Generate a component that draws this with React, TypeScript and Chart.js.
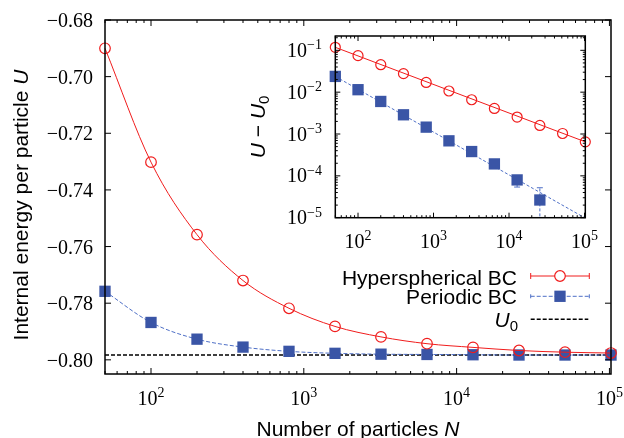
import React, { useEffect, useRef } from 'react';
import { Chart, registerables } from 'chart.js';

Chart.register(...registerables);

// ---------- data ----------
const particleN = [50, 100, 200, 400, 800, 1600, 3200, 6400, 12800, 25600, 51200, 102400];
const hyperU = [-0.690, -0.7302, -0.7558, -0.7720, -0.7818, -0.7882, -0.7919, -0.7943, -0.7956, -0.7967, -0.7973, -0.7976];
const periodicU = [-0.7758, -0.7868, -0.7927, -0.7955, -0.7970, -0.7977, -0.7980, -0.7981, -0.7982, -0.7983, -0.7983, -0.7983];
const U0 = -0.7983;
const u0LineN = [50, 102400];

const insetHyperDiff = [0.118, 0.0746, 0.0454, 0.0277, 0.0171, 0.01066, 0.00659, 0.00408, 0.00254, 0.00160, 0.00103, 0.00065];
const insetPeriodicN = [50, 100, 200, 400, 800, 1600, 3200, 6400, 12800, 25600];
const insetPeriodicDiff = [0.0238, 0.01146, 0.0060, 0.00288, 0.00146, 0.000687, 0.000381, 0.000193, 0.0000800, 0.0000265];
const insetPeriodicErrLow: (number | null)[] = [null, null, null, null, null, null, null, null, 0.000054, 0.0000001];
const insetPeriodicErrHigh: (number | null)[] = [null, null, null, null, null, null, null, null, 0.0001, 0.000052];
const hyperFitN = [50, 102400];
const hyperFitDiff = [0.118, 0.00065];
const periodicFitN = [50, 100000];
const periodicFitDiff = [0.0238, 0.00001];

// ---------- ticks ----------
const mainYTicks = [-0.80, -0.78, -0.76, -0.74, -0.72, -0.70, -0.68];
const mainYTickLabels = ['\u22120.80', '\u22120.78', '\u22120.76', '\u22120.74', '\u22120.72', '\u22120.70', '\u22120.68'];
const xMajorTicks = [100, 1000, 10000, 100000];
const xMajorExps = ['2', '3', '4', '5'];
const insetYMajorTicks = [1e-5, 1e-4, 1e-3, 1e-2, 1e-1];
const insetYMajorExps = ['\u22125', '\u22124', '\u22123', '\u22122', '\u22121'];

const RED = '#f01c1c';
const BLUE = '#3a55a6';
const BLUE_LINE = '#4e6fc6';
const SERIF = '"Liberation Serif", "Times New Roman", serif';
const SANS = '"Liberation Sans", Arial, sans-serif';
const TICK_FONT = `20px ${SERIF}`;
const EXP_FONT = `14px ${SERIF}`;
const TITLE_FONT = `21px ${SANS}`;
const TITLE_IT = `italic 21px ${SANS}`;
const SUB_FONT = `15px ${SANS}`;

function minorLogTicks(lo: number, hi: number) {
  const out: number[] = [];
  for (let d = -6; d <= 6; d++) {
    for (let k = 2; k <= 9; k++) {
      const v = k * Math.pow(10, d);
      if (v >= lo && v <= hi) out.push(v);
    }
  }
  return out;
}

type Run = { t: string; font: string; dy: number };
function drawRuns(ctx: CanvasRenderingContext2D, runs: Run[], x: number, y: number, align: 'left' | 'center' | 'right') {
  let total = 0;
  const widths = runs.map(r => {
    ctx.font = r.font;
    const w = ctx.measureText(r.t).width;
    total += w;
    return w;
  });
  let cx = align === 'center' ? x - total / 2 : align === 'right' ? x - total : x;
  ctx.textAlign = 'left';
  ctx.textBaseline = 'alphabetic';
  runs.forEach((r, i) => {
    ctx.font = r.font;
    ctx.fillText(r.t, cx, y + r.dy);
    cx += widths[i];
  });
}

function drawXTicks(ctx: CanvasRenderingContext2D, a: any, scale: any, values: number[], len: number) {
  ctx.beginPath();
  values.forEach(v => {
    const px = scale.getPixelForValue(v);
    if (px < a.left - 0.5 || px > a.right + 0.5) return;
    ctx.moveTo(px, a.bottom); ctx.lineTo(px, a.bottom - len);
    ctx.moveTo(px, a.top); ctx.lineTo(px, a.top + len);
  });
  ctx.stroke();
}
function drawYTicks(ctx: CanvasRenderingContext2D, a: any, scale: any, values: number[], len: number) {
  ctx.beginPath();
  values.forEach(v => {
    const py = scale.getPixelForValue(v);
    if (py < a.top - 0.5 || py > a.bottom + 0.5) return;
    ctx.moveTo(a.left, py); ctx.lineTo(a.left + len, py);
    ctx.moveTo(a.right, py); ctx.lineTo(a.right - len, py);
  });
  ctx.stroke();
}

const mainDecor = {
  id: 'mainDecor',
  afterDraw(chart: any) {
    const { ctx, chartArea: a, scales } = chart;
    const xs = scales.x, ys = scales.y;
    ctx.save();
    ctx.strokeStyle = '#000';
    ctx.fillStyle = '#000';
    ctx.lineWidth = 1.5;
    ctx.strokeRect(a.left, a.top, a.right - a.left, a.bottom - a.top);
    ctx.lineWidth = 1;
    drawXTicks(ctx, a, xs, xMajorTicks, 6);
    drawXTicks(ctx, a, xs, minorLogTicks(xs.min, xs.max), 3);
    drawYTicks(ctx, a, ys, mainYTicks, 6);

    // tick labels
    mainYTicks.forEach((v, i) => {
      const py = ys.getPixelForValue(v);
      drawRuns(ctx, [{ t: mainYTickLabels[i], font: TICK_FONT, dy: 0 }], a.left - 12, py + 7, 'right');
    });
    xMajorTicks.forEach((v, i) => {
      const px = xs.getPixelForValue(v);
      drawRuns(ctx, [{ t: '10', font: TICK_FONT, dy: 0 }, { t: xMajorExps[i], font: EXP_FONT, dy: -8 }], px, a.bottom + 31, 'center');
    });

    // axis titles
    drawRuns(ctx, [{ t: 'Number of particles ', font: TITLE_FONT, dy: 0 }, { t: 'N', font: TITLE_IT, dy: 0 }], (a.left + a.right) / 2, 436, 'center');
    ctx.save();
    ctx.translate(28, 205);
    ctx.rotate(-Math.PI / 2);
    drawRuns(ctx, [{ t: 'Internal energy per particle ', font: TITLE_FONT, dy: 0 }, { t: 'U', font: TITLE_IT, dy: 0 }], 0, 0, 'center');
    ctx.restore();

    // legend
    const lx1 = 530.7, lx2 = 589.3, lxc = 560, textR = 517;
    const r1 = 276, r2 = 296.3, r3 = 319.3;
    drawRuns(ctx, [{ t: 'Hyperspherical BC', font: TITLE_FONT, dy: 0 }], textR, r1 + 8.5, 'right');
    drawRuns(ctx, [{ t: 'Periodic BC', font: TITLE_FONT, dy: 0 }], textR, r2 + 7.5, 'right');
    drawRuns(ctx, [{ t: 'U', font: TITLE_IT, dy: 0 }, { t: '0', font: SUB_FONT, dy: 3.5 }], textR + 1, r3 + 7.7, 'right');

    ctx.strokeStyle = RED;
    ctx.lineWidth = 1;
    ctx.beginPath();
    ctx.moveTo(lx1, r1); ctx.lineTo(lx2, r1);
    ctx.moveTo(lx1, r1 - 3); ctx.lineTo(lx1, r1 + 3);
    ctx.moveTo(lx2, r1 - 3); ctx.lineTo(lx2, r1 + 3);
    ctx.stroke();
    ctx.beginPath();
    ctx.arc(lxc, r1, 5.3, 0, Math.PI * 2);
    ctx.fillStyle = '#fff';
    ctx.fill();
    ctx.lineWidth = 1.2;
    ctx.stroke();

    ctx.strokeStyle = BLUE_LINE;
    ctx.lineWidth = 1;
    ctx.setLineDash([4, 2]);
    ctx.beginPath();
    ctx.moveTo(lx1, r2); ctx.lineTo(lx2, r2);
    ctx.stroke();
    ctx.setLineDash([]);
    ctx.beginPath();
    ctx.moveTo(lx1, r2 - 2); ctx.lineTo(lx1, r2 + 2);
    ctx.moveTo(lx2, r2 - 2); ctx.lineTo(lx2, r2 + 2);
    ctx.stroke();
    ctx.fillStyle = BLUE;
    ctx.fillRect(lxc - 5.65, r2 - 5.65, 11.3, 11.3);

    ctx.strokeStyle = '#000';
    ctx.lineWidth = 1.5;
    ctx.setLineDash([4, 2]);
    ctx.beginPath();
    ctx.moveTo(lx1, r3); ctx.lineTo(lx2 - 1, r3);
    ctx.stroke();
    ctx.setLineDash([]);
    ctx.restore();
  },
};

const insetDecor = {
  id: 'insetDecor',
  beforeDatasetsDraw(chart: any) {
    const { ctx, chartArea: a, scales } = chart;
    ctx.save();
    ctx.fillStyle = '#fff';
    ctx.fillRect(a.left, a.top, a.right - a.left, a.bottom - a.top);
    ctx.beginPath();
    ctx.rect(a.left, a.top, a.right - a.left, a.bottom - a.top);
    ctx.clip();
    ctx.strokeStyle = BLUE_LINE;
    ctx.lineWidth = 1;
    insetPeriodicN.forEach((n, i) => {
      const lo = insetPeriodicErrLow[i], hi = insetPeriodicErrHigh[i];
      if (lo == null || hi == null) return;
      const px = scales.x.getPixelForValue(n);
      const pl = scales.y.getPixelForValue(lo);
      const ph = scales.y.getPixelForValue(hi);
      ctx.setLineDash([3, 2]);
      ctx.beginPath();
      ctx.moveTo(px, pl); ctx.lineTo(px, ph);
      ctx.stroke();
      ctx.setLineDash([]);
      ctx.beginPath();
      ctx.moveTo(px - 3, pl); ctx.lineTo(px + 3, pl);
      ctx.moveTo(px - 3, ph); ctx.lineTo(px + 3, ph);
      ctx.stroke();
    });
    ctx.restore();
  },
  afterDraw(chart: any) {
    const { ctx, chartArea: a, scales } = chart;
    const xs = scales.x, ys = scales.y;
    ctx.save();
    ctx.strokeStyle = '#000';
    ctx.fillStyle = '#000';
    ctx.lineWidth = 1.5;
    ctx.strokeRect(a.left, a.top, a.right - a.left, a.bottom - a.top);
    ctx.lineWidth = 1;
    drawXTicks(ctx, a, xs, xMajorTicks, 5);
    drawXTicks(ctx, a, xs, minorLogTicks(xs.min, xs.max), 2.5);
    drawYTicks(ctx, a, ys, insetYMajorTicks, 5);
    drawYTicks(ctx, a, ys, minorLogTicks(ys.min, ys.max), 2.5);

    insetYMajorTicks.forEach((v, i) => {
      const py = ys.getPixelForValue(v);
      drawRuns(ctx, [{ t: '10', font: TICK_FONT, dy: 0 }, { t: insetYMajorExps[i], font: EXP_FONT, dy: -7.5 }], a.left - 13.3, py + 6.6, 'right');
    });
    xMajorTicks.forEach((v, i) => {
      const px = xs.getPixelForValue(v);
      drawRuns(ctx, [{ t: '10', font: TICK_FONT, dy: 0 }, { t: xMajorExps[i], font: EXP_FONT, dy: -8 }], px, a.bottom + 30.6, 'center');
    });

    ctx.save();
    ctx.translate(265, (a.top + a.bottom) / 2);
    ctx.rotate(-Math.PI / 2);
    drawRuns(ctx, [
      { t: 'U', font: TITLE_IT, dy: 0 },
      { t: ' \u2212 ', font: TITLE_FONT, dy: 0 },
      { t: 'U', font: TITLE_IT, dy: 0 },
      { t: '0', font: SUB_FONT, dy: 4 },
    ], 0, 0, 'center');
    ctx.restore();
    ctx.restore();
  },
};

export default function App() {
  const mainRef = useRef<HTMLCanvasElement>(null);
  const insetRef = useRef<HTMLCanvasElement>(null);

  useEffect(() => {
    document.body.style.margin = '0';
    const main = new Chart(mainRef.current as HTMLCanvasElement, {
      type: 'line',
      data: {
        datasets: [
          {
            label: 'Hyperspherical BC',
            data: particleN.map((n, i) => ({ x: n, y: hyperU[i] })),
            borderColor: RED,
            borderWidth: 1,
            pointRadius: 5.3,
            pointBorderColor: RED,
            pointBackgroundColor: 'rgba(0,0,0,0)',
            pointBorderWidth: 1.2,
            cubicInterpolationMode: 'monotone',
            fill: false,
            clip: false,
          } as any,
          {
            label: 'Periodic BC',
            data: particleN.map((n, i) => ({ x: n, y: periodicU[i] })),
            borderColor: BLUE_LINE,
            borderDash: [4, 2],
            borderWidth: 1,
            pointStyle: 'rect',
            pointRadius: 8,
            pointBackgroundColor: BLUE,
            pointBorderColor: BLUE,
            pointBorderWidth: 0,
            cubicInterpolationMode: 'monotone',
            fill: false,
            clip: false,
          } as any,
          {
            label: 'U0',
            data: u0LineN.map(n => ({ x: n, y: U0 })),
            borderColor: '#000',
            borderDash: [4, 2],
            borderWidth: 1.5,
            pointRadius: 0,
            fill: false,
          } as any,
        ],
      },
      options: {
        responsive: false,
        animation: false,
        devicePixelRatio: 1,
        layout: { padding: { left: 0, top: 20, right: 13, bottom: 0 } },
        plugins: { legend: { display: false }, tooltip: { enabled: false } },
        events: [],
        scales: {
          x: {
            type: 'logarithmic',
            min: 50,
            max: 102400,
            grid: { display: false },
            border: { display: false },
            ticks: { display: false },
            afterFit: (s: any) => { s.height = 64; },
          },
          y: {
            type: 'linear',
            min: -0.805,
            max: -0.68,
            grid: { display: false },
            border: { display: false },
            ticks: { display: false },
            afterFit: (s: any) => { s.width = 105; },
          },
        },
      } as any,
      plugins: [mainDecor],
    });

    const inset = new Chart(insetRef.current as HTMLCanvasElement, {
      type: 'line',
      data: {
        datasets: [
          {
            label: 'Hyperspherical BC',
            data: particleN.map((n, i) => ({ x: n, y: insetHyperDiff[i] })),
            showLine: false,
            pointRadius: 5,
            pointBorderColor: RED,
            pointBackgroundColor: 'rgba(0,0,0,0)',
            pointBorderWidth: 1.2,
            clip: false,
          } as any,
          {
            label: 'Periodic BC',
            data: insetPeriodicN.map((n, i) => ({ x: n, y: insetPeriodicDiff[i] })),
            showLine: false,
            pointStyle: 'rect',
            pointRadius: 8,
            pointBackgroundColor: BLUE,
            pointBorderColor: BLUE,
            pointBorderWidth: 0,
            clip: false,
          } as any,
          {
            label: 'hyper fit',
            data: hyperFitN.map((n, i) => ({ x: n, y: hyperFitDiff[i] })),
            borderColor: RED,
            borderWidth: 1,
            pointRadius: 0,
            fill: false,
          } as any,
          {
            label: 'periodic fit',
            data: periodicFitN.map((n, i) => ({ x: n, y: periodicFitDiff[i] })),
            borderColor: BLUE_LINE,
            borderDash: [3, 2],
            borderWidth: 1,
            pointRadius: 0,
            fill: false,
          } as any,
        ],
      },
      options: {
        responsive: false,
        animation: false,
        devicePixelRatio: 1,
        layout: { padding: { left: 0, top: 36, right: 38.7, bottom: 0 } },
        plugins: { legend: { display: false }, tooltip: { enabled: false } },
        events: [],
        scales: {
          x: {
            type: 'logarithmic',
            min: 50,
            max: 102400,
            grid: { display: false },
            border: { display: false },
            ticks: { display: false },
            afterFit: (s: any) => { s.height = 220.3; },
          },
          y: {
            type: 'logarithmic',
            min: 1e-5,
            max: 0.22,
            grid: { display: false },
            border: { display: false },
            ticks: { display: false },
            afterFit: (s: any) => { s.width = 335.3; },
          },
        },
      } as any,
      plugins: [insetDecor],
    });

    return () => {
      main.destroy();
      inset.destroy();
    };
  }, []);

  return (
    <div style={{ position: 'relative', width: 624, height: 438, background: '#fff' }}>
      <canvas ref={mainRef} width={624} height={438} style={{ position: 'absolute', left: 0, top: 0 }} />
      <canvas ref={insetRef} width={624} height={438} style={{ position: 'absolute', left: 0, top: 0 }} />
    </div>
  );
}
